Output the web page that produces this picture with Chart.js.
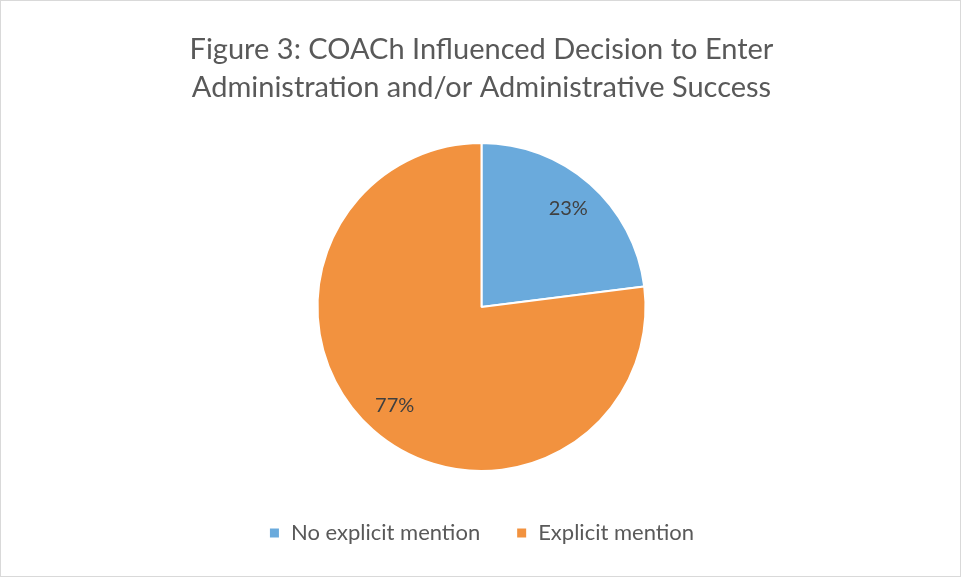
<!DOCTYPE html>
<html>
<head>
<meta charset="utf-8">
<script src="https://cdn.jsdelivr.net/npm/chart.js@4/dist/chart.umd.min.js"></script>
<style>
  html, body { margin: 0; padding: 0; background: #fff; }
  #wrap { width: 961px; height: 577px; box-sizing: border-box; border: 1px solid #d9d9d9; position: relative; }
  #chart { display: block; }
</style>
</head>
<body>
<div id="wrap"><canvas id="chart" width="959" height="575"></canvas></div>
<script>
const categories = ["No explicit mention", "Explicit mention"]
const shares = [23, 77]
const sliceColors = ["#6aaadc", "#f2923f"]
const titleLines = ["Figure 3: COACh Influenced Decision to Enter", "Administration and/or Administrative Success"]

const FONT = "Lato"

// percent labels placed inside each slice, at ~80% of the radius
const sliceLabels = {
    id: "sliceLabels",
    afterDatasetsDraw(chart){
        const ctx = chart.ctx
        const meta = chart.getDatasetMeta(0)
        ctx.save()
        ctx.font = `20px ${FONT}`
        ctx.fillStyle = "#404040"
        ctx.textAlign = "center"
        ctx.textBaseline = "middle"
        meta.data.forEach((arc, i)=>{
            const p = arc.getProps(["x","y","startAngle","endAngle","outerRadius"], true)
            const mid = (p.startAngle + p.endAngle) / 2
            const r = p.outerRadius * 0.8
            ctx.fillText(shares[i] + "%", p.x + Math.cos(mid) * r, p.y + Math.sin(mid) * r)
        })
        ctx.restore()
    }
}

new Chart(document.getElementById("chart"), {
    type: "pie",
    data: {
        labels: categories,
        datasets: [{
            data: shares,
            backgroundColor: sliceColors,
            borderColor: "#ffffff",
            borderWidth: 2,
            radius: 164
        }]
    },
    options: {
        responsive: false,
        animation: false,
        layout: { padding: { bottom: 22, left: 2 } },
        plugins: {
            title: {
                display: true,
                text: titleLines,
                color: "#595959",
                font: { family: FONT, size: 29, weight: "normal", lineHeight: 1.31 },
                padding: { top: 30, bottom: 21 }
            },
            legend: {
                position: "bottom",
                labels: {
                    color: "#595959",
                    font: { family: FONT, size: 22 },
                    boxWidth: 11,
                    boxHeight: 11,
                    padding: 36
                }
            },
            tooltip: { enabled: false }
        }
    },
    plugins: [sliceLabels]
})
</script>
</body>
</html>
